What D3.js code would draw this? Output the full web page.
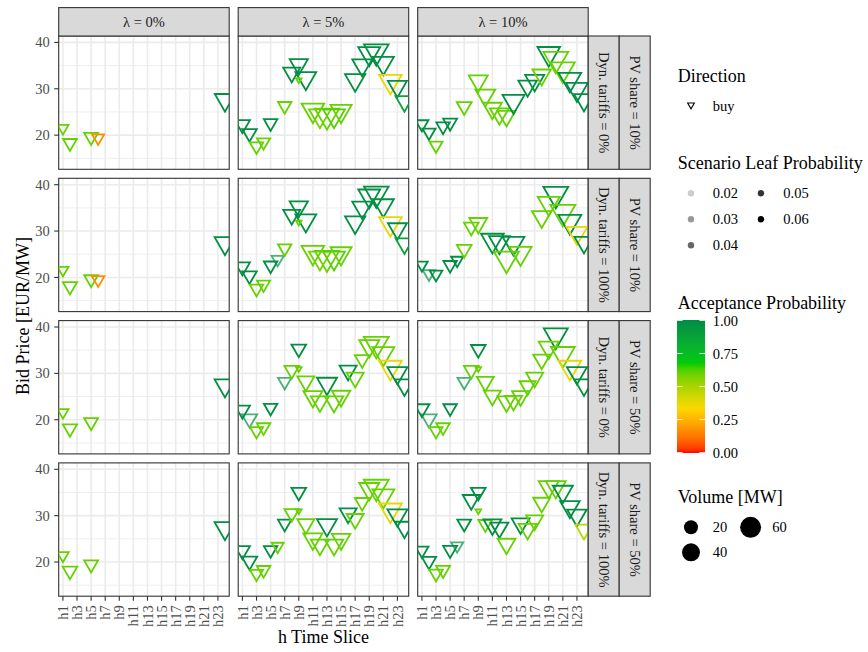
<!DOCTYPE html>
<html><head><meta charset="utf-8">
<script src="https://cdn.jsdelivr.net/npm/d3@7"></script>
<style>body{margin:0;background:#fff}svg{display:block;font-family:"Liberation Serif","Times New Roman",serif}</style>
</head><body><div id="chart"></div>
<script>
// ---------- categories & labels ----------
const hours = d3.range(1, 25).map(i => "h" + i);
const hourBreaks = hours.filter((d, i) => i % 2 === 0);
const lambdaLabels = ["λ = 0%", "λ = 5%", "λ = 10%"];
const dynLabels = ["Dyn. tariffs = 0%", "Dyn. tariffs = 100%", "Dyn. tariffs = 0%", "Dyn. tariffs = 100%"];
const pvLabels = ["PV share = 10%", "PV share = 10%", "PV share = 50%", "PV share = 50%"];
const yBreaks = [20, 30, 40];
const yMinor = [15, 25, 35];
const acceptBreaks = [0, 0.25, 0.5, 0.75, 1];
const leafBreaks = [0.02, 0.03, 0.04, 0.05, 0.06];
const volumeBreaks = [20, 40, 60];
const directionLevels = ["buy"];

// ---------- data: [hour, bid price, acceptance prob, volume MW, leaf prob] ----------
const bids_l0_r1 = [[1,21.5,0.6,7,.06],[2,18.3,0.6,13,.06],[5,19.6,0.6,13,.06],[6,19.4,0.17,9,.06],[24,27.6,0.98,34,.06]];
const bids_l0_r2 = [[1,21.6,0.6,7,.06],[2,18.1,0.6,14,.06],[5,19.6,0.6,13,.06],[6,19.5,0.17,10,.06],[24,27.4,0.98,36,.06]];
const bids_l0_r3 = [[1,21.6,0.6,7,.06],[2,18.1,0.6,14,.06],[5,19.5,0.6,13,.06],[24,27.4,0.98,36,.06]];
const bids_l0_r4 = [[1,21.4,0.6,8,.06],[2,18.1,0.6,15,.06],[5,19.5,0.6,13,.06],[24,27.3,0.98,36,.06]];

const bids_l5_r1 = [[1,22.3,0.98,16,.06],[2,20.4,0.98,15,.06],[3,17.6,0.6,12,.06],[4,18.5,0.6,11,.06],[5,22.6,0.98,12,.06],[7,26.3,0.6,12,.06],
  [8,33.5,0.98,22,.06],[9,35.25,0.98,26,.06],[10,32.3,0.98,36,.06],[9,31.9,0.6,0.5,.06],
  [11,25.4,0.6,44,.06],[12,24.2,0.58,40,.06],[13,24.2,0.6,52,.06],[14,24.2,0.62,40,.06],[15,25.2,0.6,37,.06],
  [17,31.9,0.98,34,.06],[18,35.1,0.98,32,.06],[19,37.6,0.98,41,.06],[20,38.05,0.98,53,.06],[21,35.55,0.98,37,.06],
  [22,31.6,0.38,44,.06],[23,30.5,0.98,29,.06],[24,27.3,0.88,25,.06]];
const bids_l5_r2 = [[1,22.3,0.98,16,.06],[2,20.4,0.98,15,.06],[3,17.6,0.6,12,.06],[4,18.5,0.6,11,.06],[5,22.6,0.98,12,.06],[6,23.9,0.98,9,.045],[7,26.3,0.6,12,.06],
  [8,33.5,0.98,22,.06],[9,35.25,0.98,26,.06],[10,32.3,0.98,36,.06],[9,31.9,0.6,0.5,.06],
  [11,25.4,0.6,44,.06],[12,24.2,0.58,40,.06],[13,24.2,0.6,52,.06],[14,24.2,0.62,40,.06],[15,25.2,0.6,37,.06],
  [17,31.9,0.98,34,.06],[18,35.1,0.98,32,.06],[19,37.6,0.98,41,.06],[20,38.05,0.98,53,.06],[21,35.55,0.98,37,.06],
  [22,31.6,0.38,44,.06],[23,30.5,0.98,29,.06],[24,27.3,0.88,25,.06]];
const bids_l5_r3 = [[1,22.1,0.98,16,.06],[2,20.2,0.98,17,.045],[3,17.6,0.6,11,.06],[4,18.4,0.6,12,.06],[5,22.6,0.98,12,.06],[7,28.2,0.98,12,.045],
  [8,30.7,0.6,15,.06],[9,35.3,0.98,15,.06],[9,31.0,0.6,0.5,.06],[10,28.3,0.6,22,.06],[13,27.8,0.98,33,.06],
  [11,25.0,0.6,29,.06],[12,23.9,0.6,25,.06],[14,23.9,0.6,27,.06],[15,25.1,0.6,27,.06],
  [16,30.6,0.98,22,.06],[17,29.1,0.6,22,.06],[18,33.0,0.6,15,.06],[19,35.9,0.6,33,.06],[20,36.3,0.6,55,.06],[21,34.3,0.6,41,.06],
  [22,31.3,0.38,45,.06],[23,30.1,0.98,33,.06],[24,27.5,0.98,29,.06]];
const bids_l5_r4 = [[1,22.5,0.98,16,.06],[2,20.2,0.98,17,.06],[3,17.5,0.6,11,.06],[4,18.3,0.6,12,.06],[5,22.6,0.98,12,.06],[6,23.4,0.6,9,.06],[7,28.3,0.98,12,.06],
  [8,30.5,0.6,15,.06],[9,35.1,0.98,15,.06],[9,31.0,0.6,0.5,.06],[10,28.2,0.6,22,.06],[13,28.0,0.98,33,.06],
  [11,25.0,0.6,29,.06],[12,23.7,0.6,25,.06],[14,23.7,0.6,27,.06],[15,24.9,0.6,27,.06],
  [16,30.5,0.98,22,.06],[17,29.3,0.6,22,.06],[18,32.9,0.6,15,.06],[19,35.8,0.6,33,.06],[20,36.2,0.6,55,.06],[21,34.3,0.6,41,.06],
  [22,31.2,0.38,45,.06],[23,30.1,0.98,33,.06],[24,27.5,0.98,29,.06]];

const bids_l10_r1 = [[1,22.4,0.98,11,.06],[2,20.6,0.98,11,.06],[3,17.8,0.6,11,.06],[4,21.9,0.98,12,.06],[5,22.7,0.98,13,.06],[7,26.2,0.6,16,.06],
  [9,31.7,0.6,29,.06],[10,28.6,0.6,32,.06],[11,25.8,0.6,29,.06],[12,24.6,0.6,29,.06],[13,24.1,0.6,25,.06],[14,27.3,0.98,41,.06],
  [16,30.6,0.98,27,.06],[17,31.8,0.98,29,.06],[18,33.0,0.6,27,.06],[19,37.6,0.98,44,.06],[20,36.4,0.6,55,.06],[21,34.2,0.6,50,.06],
  [22,32.0,0.98,44,.06],[23,29.9,0.98,41,.06],[24,27.6,0.98,32,.06]];
const bids_l10_r2 = [[1,22.7,0.98,8,.06],[2,20.8,0.98,10,.045],[3,20.7,0.98,10,.06],[5,22.7,0.98,12,.06],[6,23.7,0.98,9,.06],[7,26.1,0.6,15,.06],
  [8,30.9,0.6,15,.06],[9,31.7,0.6,25,.06],[11,28.0,0.98,45,.06],[12,27.6,0.98,36,.06],[14,27.4,0.98,40,.06],[13,24.0,0.6,55,.06],[15,25.2,0.6,41,.06],
  [20,38.0,0.98,55,.06],[19,36.0,0.6,41,.06],[18,33.1,0.6,31,.06],[21,34.1,0.6,55,.06],[22,32.05,0.98,45,.06],[23,29.6,0.38,36,.06],[24,27.55,0.98,29,.06]];
const bids_l10_r3 = [[1,22.4,0.98,16,.06],[2,20.2,0.98,17,.045],[3,17.6,0.6,11,.06],[4,18.4,0.6,12,.06],[5,22.5,0.98,12,.06],[7,28.2,0.98,12,.045],
  [8,30.7,0.6,15,.06],[9,35.2,0.98,15,.06],[9,31.0,0.6,0.5,.06],[10,28.2,0.6,22,.06],[11,25.2,0.6,22,.06],[13,23.9,0.6,25,.06],[14,24.1,0.6,22,.06],
  [15,25.1,0.6,22,.06],[16,27.3,0.6,19,.06],[17,29.1,0.6,22,.06],[18,33.0,0.6,22,.06],[20,38.2,0.98,50,.06],[19,35.6,0.6,33,.06],[21,34.2,0.6,50,.06],
  [22,31.3,0.38,45,.06],[23,30.1,0.98,33,.06],[24,27.5,0.98,29,.06]];
const bids_l10_r4 = [[1,22.5,0.98,11,.06],[2,20.2,0.98,14,.06],[3,17.5,0.6,12,.06],[4,18.3,0.6,13,.06],[5,22.6,0.98,13,.06],[6,23.5,0.98,9,.045],[7,28.3,0.98,13,.06],
  [8,33.4,0.98,22,.06],[9,35.1,0.98,15,.06],[9,31.0,0.6,0.5,.06],[10,28.2,0.6,13,.06],[11,28.1,0.98,25,.06],[12,27.4,0.98,25,.06],[13,23.9,0.6,25,.06],
  [15,28.3,0.98,25,.06],[16,27.1,0.6,25,.06],[17,29.0,0.6,22,.06],[18,32.8,0.6,22,.06],[19,36.2,0.6,33,.06],[20,36.2,0.6,33,.06],[21,35.2,0.98,33,.06],
  [22,31.9,0.98,31,.06],[23,30.1,0.98,31,.06],[24,27.0,0.47,22,.06]];

const panelData = [
  [bids_l0_r1, bids_l5_r1, bids_l10_r1],
  [bids_l0_r2, bids_l5_r2, bids_l10_r2],
  [bids_l0_r3, bids_l5_r3, bids_l10_r3],
  [bids_l0_r4, bids_l5_r4, bids_l10_r4]
];

// ---------- layout ----------
const Wt = 868, Ht = 652;
const panelW = 170.5, panelH = 133.3, gap = 9;
const left0 = 58.7, top0 = 36;
const stripTopH = 28.4, stripRW = 31;

const svg = d3.select("#chart").append("svg").attr("width", Wt).attr("height", Ht);

const x = d3.scalePoint().domain(hours).range([0, panelW]).padding(0.6);
const y = d3.scaleLinear().domain([12.63, 41.38]).range([panelH, 0]);
const color = d3.scaleLinear().domain([0, 1/3, 2/3, 1])
  .range(["#FF0000", "#FFD700", "#00CD00", "#008B45"]).interpolate(d3.interpolateLab);
const rScale = d3.scaleSqrt().domain([0, 60]).range([1.3, 9.6]);
const alpha = d3.scaleLinear().domain([0.015, 0.06]).range([0.1, 1]);
const strokeW = 1.8;

function triPath(cx, cy, r) {
  const Rt = 1.555 * r, hw = 1.347 * r;
  return `M${cx - hw},${cy - Rt / 2}L${cx + hw},${cy - Rt / 2}L${cx},${cy + Rt}Z`;
}

const nRows = 4, nCols = 3;
for (let row = 0; row < nRows; row++) {
  for (let col = 0; col < nCols; col++) {
    const px = left0 + col * (panelW + gap), py = top0 + row * (panelH + gap);
    const g = svg.append("g").attr("transform", `translate(${px},${py})`);
    g.append("rect").attr("width", panelW).attr("height", panelH).attr("fill", "#fff");
    g.selectAll(".ymin").data(yMinor).join("line")
      .attr("x1", 0).attr("x2", panelW).attr("y1", d => y(d)).attr("y2", d => y(d))
      .attr("stroke", "#ebebeb").attr("stroke-width", 0.8);
    g.selectAll(".ymaj").data(yBreaks).join("line")
      .attr("x1", 0).attr("x2", panelW).attr("y1", d => y(d)).attr("y2", d => y(d))
      .attr("stroke", "#ebebeb").attr("stroke-width", 1.6);
    g.selectAll(".xmaj").data(hourBreaks).join("line")
      .attr("x1", d => x(d)).attr("x2", d => x(d)).attr("y1", 0).attr("y2", panelH)
      .attr("stroke", "#ebebeb").attr("stroke-width", 1.6);
    const cid = `clip${row}_${col}`;
    svg.append("clipPath").attr("id", cid).append("rect")
      .attr("x", px).attr("y", py).attr("width", panelW).attr("height", panelH);
    const pts = svg.append("g").attr("clip-path", `url(#${cid})`)
      .append("g").attr("transform", `translate(${px},${py})`);
    pts.selectAll("path").data(panelData[row][col]).join("path")
      .attr("d", d => triPath(x("h" + d[0]), y(d[1]), rScale(d[3])))
      .attr("fill", "none")
      .attr("stroke", d => color(d[2]))
      .attr("stroke-opacity", d => alpha(d[4]))
      .attr("stroke-width", strokeW)
      .attr("stroke-linejoin", "miter");
    g.append("rect").attr("width", panelW).attr("height", panelH)
      .attr("fill", "none").attr("stroke", "#333").attr("stroke-width", 1.1);
    if (col === 0) {
      const ya = g.append("g");
      ya.selectAll("line").data(yBreaks).join("line")
        .attr("x1", -4.5).attr("x2", 0).attr("y1", d => y(d)).attr("y2", d => y(d))
        .attr("stroke", "#333").attr("stroke-width", 1.1);
      ya.selectAll("text").data(yBreaks).join("text")
        .attr("x", -9).attr("y", d => y(d)).attr("dy", "0.35em")
        .attr("text-anchor", "end").attr("font-size", 14.5).attr("fill", "#4d4d4d")
        .text(d => d);
    }
    if (row === nRows - 1) {
      const xa = g.append("g").attr("transform", `translate(0,${panelH})`);
      xa.selectAll("line").data(hourBreaks).join("line")
        .attr("x1", d => x(d)).attr("x2", d => x(d)).attr("y1", 0).attr("y2", 4.5)
        .attr("stroke", "#333").attr("stroke-width", 1.1);
      xa.selectAll("text").data(hourBreaks).join("text")
        .attr("transform", d => `translate(${x(d)},${9}) rotate(-90)`)
        .attr("text-anchor", "end").attr("dy", "0.35em")
        .attr("font-size", 14.5).attr("fill", "#4d4d4d").text(d => d);
    }
    if (row === 0) {
      const s = svg.append("g").attr("transform", `translate(${px},${top0 - stripTopH})`);
      s.append("rect").attr("width", panelW).attr("height", stripTopH)
        .attr("fill", "#d9d9d9").attr("stroke", "#333").attr("stroke-width", 1.1);
      s.append("text").attr("x", panelW / 2).attr("y", stripTopH / 2).attr("dy", "0.35em")
        .attr("text-anchor", "middle").attr("font-size", 14.5).attr("fill", "#1a1a1a")
        .text(lambdaLabels[col]);
    }
    if (col === nCols - 1) {
      [dynLabels[row], pvLabels[row]].forEach((lab, k) => {
        const sx = px + panelW + k * stripRW;
        const s = svg.append("g").attr("transform", `translate(${sx},${py})`);
        s.append("rect").attr("width", stripRW).attr("height", panelH)
          .attr("fill", "#d9d9d9").attr("stroke", "#333").attr("stroke-width", 1.1);
        s.append("text").attr("transform", `translate(${stripRW / 2},${panelH / 2}) rotate(90)`)
          .attr("dy", "0.35em").attr("text-anchor", "middle")
          .attr("font-size", 14.5).attr("fill", "#1a1a1a").text(lab);
      });
    }
  }
}

const plotMidX = left0 + (3 * panelW + 2 * gap) / 2;
const plotMidY = top0 + (4 * panelH + 3 * gap) / 2;
svg.append("text").attr("x", plotMidX).attr("y", 643).attr("text-anchor", "middle")
  .attr("font-size", 18).attr("fill", "#000").text("h Time Slice");
svg.append("text").attr("transform", `translate(29,${plotMidY}) rotate(-90)`)
  .attr("text-anchor", "middle").attr("font-size", 18).attr("fill", "#000").text("Bid Price [EUR/MW]");

// ---------- legends ----------
const lx = 677.7, keyX = 691, labX = 712.7;
const lg = svg.append("g");
function title(txt, yb) {
  lg.append("text").attr("x", lx).attr("y", yb).attr("font-size", 18).attr("fill", "#000").text(txt);
}
function label(txt, xx, yy) {
  lg.append("text").attr("x", xx).attr("y", yy).attr("dy", "0.35em").attr("font-size", 14.5).attr("fill", "#000").text(txt);
}
title("Direction", 81.5);
directionLevels.forEach((d, i) => {
  lg.append("path").attr("d", triPath(keyX, 105 + i * 26, 2.5)).attr("fill", "none")
    .attr("stroke", "#000").attr("stroke-width", 1.1);
  label(d, labX, 106 + i * 26);
});
title("Scenario Leaf Probability", 169);
leafBreaks.forEach((d, i) => {
  const c = Math.floor(i / 3), r = i % 3;
  const yy = 193.3 + r * 26;
  lg.append("circle").attr("cx", keyX + c * 70).attr("cy", yy).attr("r", 3.2)
    .attr("fill", "#000").attr("fill-opacity", alpha(d));
  label(d.toFixed(2), labX + c * 70.6, yy);
});
title("Acceptance Probability", 309);
const cbX = 677, cbW = 28, cbTop = 320, cbBot = 453;
const grad = svg.append("defs").append("linearGradient").attr("id", "cbgrad")
  .attr("x1", 0).attr("x2", 0).attr("y1", 1).attr("y2", 0);
d3.range(0, 1.0001, 0.02).forEach(t => {
  grad.append("stop").attr("offset", t).attr("stop-color", color(t));
});
lg.append("rect").attr("x", cbX).attr("y", cbTop).attr("width", cbW).attr("height", cbBot - cbTop)
  .attr("fill", "url(#cbgrad)");
const cbY = d3.scaleLinear().domain([0, 1]).range([cbBot - 0.5, cbTop + 0.5]);
acceptBreaks.forEach(d => {
  lg.append("line").attr("x1", cbX).attr("x2", cbX + cbW / 5).attr("y1", cbY(d)).attr("y2", cbY(d))
    .attr("stroke", "#fff").attr("stroke-opacity", 0.8).attr("stroke-width", 1);
  lg.append("line").attr("x1", cbX + cbW * 4 / 5).attr("x2", cbX + cbW).attr("y1", cbY(d)).attr("y2", cbY(d))
    .attr("stroke", "#fff").attr("stroke-opacity", 0.8).attr("stroke-width", 1);
  label(d.toFixed(2), labX, cbY(d));
});
title("Volume [MW]", 502.5);
volumeBreaks.forEach((d, i) => {
  const c = Math.floor(i / 2), r = i % 2;
  const cx = keyX + c * 59.6, cy = 527.3 + r * 25;
  lg.append("circle").attr("cx", cx).attr("cy", cy).attr("r", rScale(d) + 0.9).attr("fill", "#000");
  label(d, labX + c * 59.6, cy);
});
</script></body></html>
